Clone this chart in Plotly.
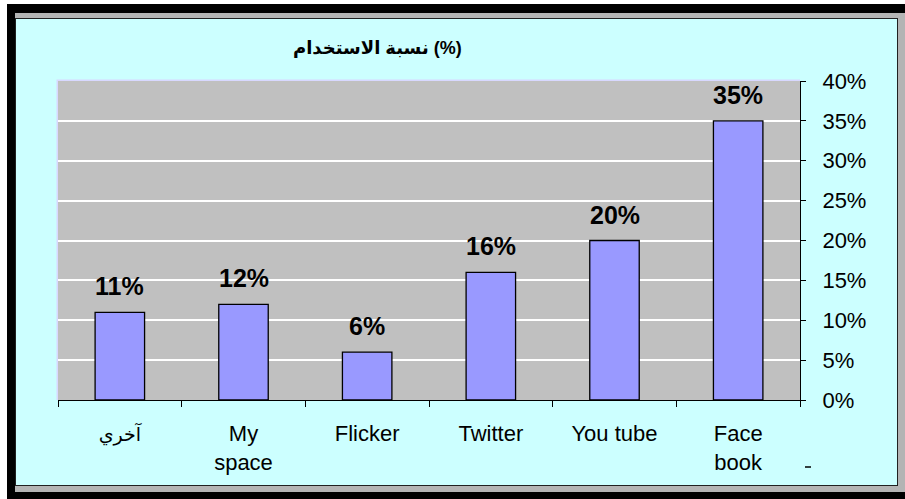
import plotly.graph_objects as go

categories = ["آخري", "My space", "Flicker", "Twitter", "You tube", "Face book"]
tick_labels = ["<span style='font-size:19px'>آخري</span>", "My<br>space", "Flicker", "Twitter", "You tube", "Face<br>book"]
values = [11, 12, 6, 16, 20, 35]
value_labels = ["11%", "12%", "6%", "16%", "20%", "35%"]
y_ticks = [0, 5, 10, 15, 20, 25, 30, 35, 40]
y_tick_labels = ["0%", "5%", "10%", "15%", "20%", "25%", "30%", "35%", "40%"]
title_text = "نسبة الاستخدام (%)"

W, H = 905, 499
L, R, T, B = 58, 800, 81, 400
FONT = "Arial, Liberation Sans, DejaVu Sans"


def px(x):
    return (x - L) / (R - L)


def py(y):
    return (B - y) / (B - T)


fig = go.Figure()
fig.add_trace(go.Bar(
    x=categories, y=values,
    marker=dict(color="#9999FF", line=dict(color="black", width=1.3)),
    width=0.4, cliponaxis=False, hoverinfo="skip",
))

shapes = [
    dict(type="rect", xref="paper", yref="paper", x0=px(7), x1=px(905), y0=py(4), y1=py(499),
         fillcolor="black", line=dict(width=0), layer="below"),
    dict(type="rect", xref="paper", yref="paper", x0=px(15), x1=px(905), y0=py(13), y1=py(492),
         fillcolor="#B4B4B4", line=dict(width=0), layer="below"),
    dict(type="rect", xref="paper", yref="paper", x0=px(15), x1=px(898), y0=py(18), y1=py(486),
         fillcolor="#202020", line=dict(width=0), layer="below"),
    dict(type="rect", xref="paper", yref="paper", x0=px(16), x1=px(897), y0=py(19), y1=py(485),
         fillcolor="#CCFFFF", line=dict(width=0), layer="below"),
    dict(type="rect", xref="paper", yref="paper", x0=px(56.5), x1=1, y0=0, y1=py(79.5),
         fillcolor="#D8D8FF", line=dict(width=0), layer="below"),
    dict(type="rect", xref="paper", yref="paper", x0=0, x1=1, y0=0, y1=1,
         fillcolor="#C0C0C0", line=dict(width=0), layer="below"),
    dict(type="line", xref="paper", yref="paper", x0=px(805), x1=px(811), y0=py(467), y1=py(467),
         line=dict(color="black", width=1.5)),
]

annotations = [dict(
    text="<b>" + title_text + "</b>", xref="paper", yref="paper",
    x=px(377), y=py(48), xanchor="center", yanchor="middle", showarrow=False,
    font=dict(size=18, color="black", family=FONT),
)]
for c, v, lab in zip(categories, values, value_labels):
    annotations.append(dict(
        x=c, y=v, xref="x", yref="y", text="<b>" + lab + "</b>", showarrow=False,
        xanchor="center", yanchor="bottom", yshift=10,
        font=dict(size=25, color="black", family=FONT),
    ))

fig.update_layout(
    width=W, height=H,
    margin=dict(l=L, r=W - R, t=T, b=H - B),
    paper_bgcolor="white", plot_bgcolor="rgba(0,0,0,0)",
    showlegend=False, bargap=0.6,
    font=dict(family=FONT, color="black"),
    shapes=shapes,
    annotations=annotations,
    xaxis=dict(
        type="category", categoryorder="array", categoryarray=categories,
        tickvals=categories, ticktext=tick_labels,
        range=[-0.5, 5.5], showline=True, linecolor="black", linewidth=1,
        ticks="outside", tickson="boundaries", ticklen=6, tickcolor="black",
        tickfont=dict(size=22, color="black"), showgrid=False, fixedrange=True,
        ticklabelstandoff=14,
    ),
    yaxis=dict(
        side="right", range=[0, 40], tickvals=y_ticks, ticktext=y_tick_labels,
        showline=True, linecolor="black", linewidth=1,
        ticks="outside", ticklen=5, tickcolor="black",
        tickfont=dict(size=22, color="black"),
        showgrid=True, gridcolor="white", gridwidth=1.5, zeroline=False,
        ticklabelstandoff=12, fixedrange=True,
    ),
)

fig.write_html("out.html")
